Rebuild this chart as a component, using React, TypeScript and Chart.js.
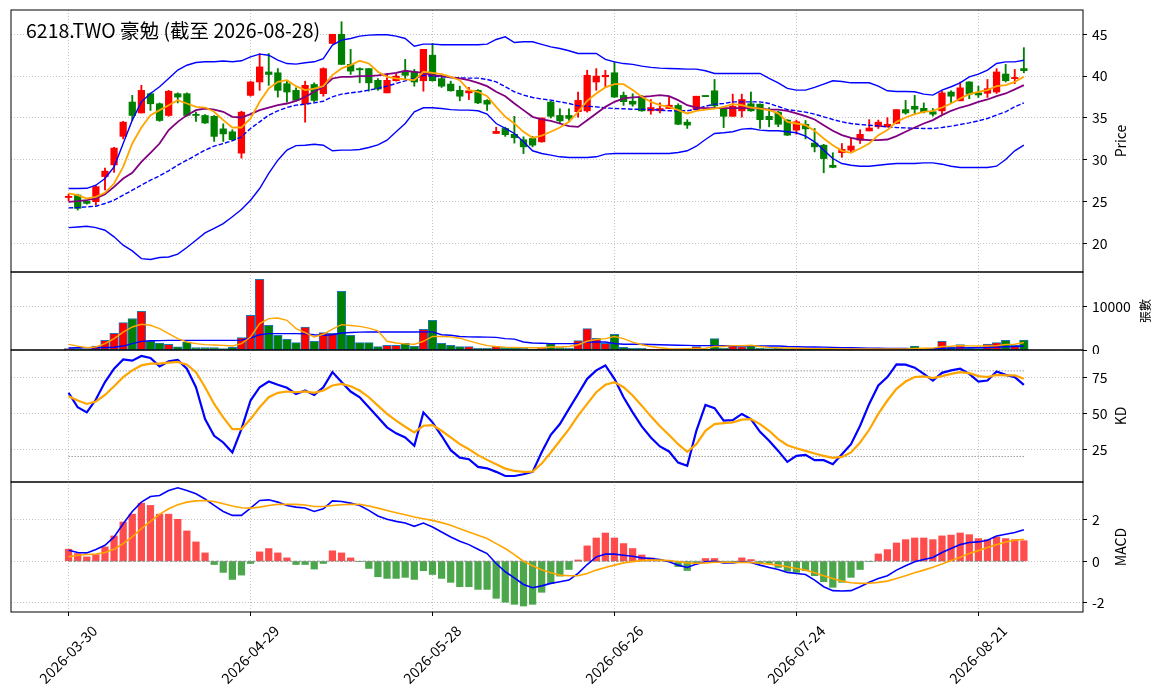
import React, { useEffect, useRef } from "react";
import { Chart, registerables } from "chart.js";

Chart.register(...registerables);

// ---------------- data ----------------
const DATES = [
  "2026-03-30","2026-03-31","2026-04-01","2026-04-02","2026-04-07","2026-04-08","2026-04-09","2026-04-10","2026-04-13","2026-04-14",
  "2026-04-15","2026-04-16","2026-04-17","2026-04-20","2026-04-21","2026-04-22","2026-04-23","2026-04-24","2026-04-27","2026-04-28",
  "2026-04-29","2026-04-30","2026-05-04","2026-05-05","2026-05-06","2026-05-07","2026-05-08","2026-05-11","2026-05-12","2026-05-13",
  "2026-05-14","2026-05-15","2026-05-18","2026-05-19","2026-05-20","2026-05-21","2026-05-22","2026-05-25","2026-05-26","2026-05-27",
  "2026-05-28","2026-05-29","2026-06-01","2026-06-02","2026-06-03","2026-06-04","2026-06-05","2026-06-08","2026-06-09","2026-06-10",
  "2026-06-11","2026-06-12","2026-06-15","2026-06-16","2026-06-17","2026-06-18","2026-06-22","2026-06-23","2026-06-24","2026-06-25",
  "2026-06-26","2026-06-29","2026-06-30","2026-07-01","2026-07-02","2026-07-03","2026-07-06","2026-07-07","2026-07-08","2026-07-09",
  "2026-07-10","2026-07-13","2026-07-14","2026-07-15","2026-07-16","2026-07-17","2026-07-20","2026-07-21","2026-07-22","2026-07-23",
  "2026-07-24","2026-07-27","2026-07-28","2026-07-29","2026-07-30","2026-07-31","2026-08-03","2026-08-04","2026-08-05","2026-08-06",
  "2026-08-07","2026-08-10","2026-08-11","2026-08-12","2026-08-13","2026-08-14","2026-08-17","2026-08-18","2026-08-19","2026-08-20",
  "2026-08-21","2026-08-24","2026-08-25","2026-08-26","2026-08-27","2026-08-28",
];

const OPEN = [
  25.5,25.8,25.05,25.0,28.0,29.4,32.8,36.9,35.6,37.9,
  36.7,35.3,37.9,37.9,35.4,35.3,35.2,33.7,33.35,30.8,
  37.7,39.3,40.5,40.4,39.1,38.3,36.7,39.0,37.9,43.9,
  45.0,41.4,40.9,40.9,39.5,38.0,39.45,40.5,40.5,39.45,
  42.5,39.7,39.05,38.3,38.0,38.3,37.1,33.15,33.75,33.05,
  32.4,32.55,32.15,36.9,35.3,35.3,35.75,35.85,39.3,39.92,
  40.4,37.7,37.0,37.45,35.85,35.86,36.13,36.5,34.5,36.0,
  37.65,38.25,36.1,35.2,35.85,36.7,36.65,35.2,35.7,34.75,
  33.55,34.25,32.0,31.75,29.35,30.85,31.15,32.35,33.45,33.95,
  33.95,34.35,36.0,36.4,36.15,35.75,35.85,38.1,37.05,39.3,
  38.0,37.95,38.1,40.25,39.7,40.9,
];
const HIGH = [
  25.9,25.9,25.2,26.9,29.0,31.5,34.6,37.7,38.9,38.0,
  36.8,38.3,38.0,38.0,35.7,35.4,35.3,34.3,33.6,35.8,
  39.4,42.7,42.7,40.9,39.5,38.6,39.4,39.2,41.0,45.0,
  46.5,43.2,41.0,40.9,39.7,40.3,40.3,42.0,40.8,43.2,
  43.9,40.1,39.4,38.8,38.65,38.4,37.2,33.9,33.9,35.2,
  32.75,32.8,35.0,37.0,36.1,36.1,38.1,40.7,40.9,40.7,
  41.7,38.1,37.9,37.7,37.2,36.8,37.6,36.7,34.8,37.6,
  37.65,39.6,36.2,37.85,37.85,38.1,36.7,36.25,35.8,34.8,
  34.75,34.7,33.75,31.85,30.85,31.95,32.65,33.6,34.8,34.75,
  35.05,36.0,37.1,37.7,36.8,36.13,38.25,38.25,39.3,39.35,
  38.8,39.6,40.9,41.4,40.8,43.4,
];
const LOW = [
  25.1,24.0,24.7,24.6,26.4,28.5,32.5,34.7,35.6,35.9,
  34.6,35.2,36.8,35.2,34.6,34.35,32.2,32.2,32.3,30.2,
  37.6,38.3,38.9,37.5,36.9,37.0,34.5,36.9,37.6,43.9,
  41.4,40.2,39.2,38.2,38.3,38.0,39.4,39.7,38.8,38.2,
  39.4,38.65,38.2,37.05,37.2,36.7,35.9,33.15,32.8,32.0,
  30.75,31.55,32.1,35.0,34.3,34.7,35.1,35.7,38.3,38.65,
  37.45,36.5,36.4,35.8,35.45,35.6,36.1,34.2,33.75,36.0,
  37.55,36.3,33.85,35.2,35.1,35.8,33.75,33.95,33.95,32.9,
  33.05,32.5,30.95,28.45,29.05,30.3,30.85,31.95,33.45,33.75,
  33.9,34.3,35.45,35.45,35.6,35.22,35.5,36.8,37.05,37.3,
  37.45,37.45,37.93,39.3,39.1,40.4,
];
const CLOSE = [
  25.55,24.2,24.8,26.8,28.65,31.4,34.5,35.3,38.3,36.7,
  34.7,38.2,37.5,35.3,35.3,34.4,32.8,33.1,32.4,35.7,
  39.3,41.1,40.2,38.3,38.1,37.1,38.9,37.1,40.9,45.0,
  41.4,40.6,40.75,39.2,38.45,39.5,40.0,40.1,39.3,43.2,
  39.45,38.8,38.25,37.6,38.25,36.8,36.65,33.4,33.0,32.65,
  31.55,31.75,35.0,35.2,34.65,34.95,37.1,40.1,40.0,40.1,
  37.5,36.95,36.65,35.85,36.25,36.13,36.53,34.25,34.15,37.6,
  37.55,36.45,35.2,36.4,37.2,35.85,34.8,34.8,34.25,32.95,
  34.55,33.7,31.55,30.15,29.1,31.25,31.65,33.05,33.8,34.5,
  34.25,36.0,35.6,36.05,35.75,35.45,38.0,37.6,38.6,37.85,
  37.75,38.5,40.5,39.45,39.85,40.65,
];

const MA5 = [
  25.98,25.78,25.38,25.58,26.06,27.17,29.16,31.95,33.86,35.34,
  35.94,36.53,37.13,36.73,36.33,36.25,35.74,34.74,33.86,33.86,
  34.94,36.93,38.53,39.32,39.52,38.8,38.33,38.5,38.8,40.12,
  40.92,41.31,41.83,41.51,40.52,39.92,39.72,39.6,39.52,40.52,
  40.4,40.24,39.92,39.52,38.33,38.13,37.61,36.33,35.14,34.34,
  33.35,32.63,32.9,33.35,33.86,34.54,35.74,37.05,37.93,38.65,
  39.04,39.04,38.33,37.53,36.93,36.53,36.33,35.94,35.54,35.86,
  36.0,36.13,36.33,36.65,36.53,36.25,36.13,35.94,35.55,34.54,
  34.34,34.14,33.47,32.55,31.75,31.08,30.84,31.35,31.95,32.95,
  33.55,34.54,35.06,35.46,35.74,35.86,36.25,36.73,37.33,37.85,
  38.13,38.33,38.8,38.92,39.32,39.92,
];
const MA10 = [
  24.98,25.06,25.18,25.38,25.9,26.77,27.77,28.45,29.76,30.84,
  31.95,33.55,34.54,35.34,35.94,36.13,36.0,35.74,35.14,35.06,
  35.46,35.94,36.25,36.53,36.73,37.05,37.5,38.13,38.73,39.72,
  39.92,39.92,40.0,40.0,40.08,40.24,40.4,40.64,40.52,40.4,
  40.12,40.0,39.84,39.72,39.52,39.2,38.8,38.13,37.6,36.73,
  35.94,35.14,34.82,34.66,34.34,34.02,33.94,34.74,35.54,36.33,
  36.93,37.33,37.45,37.53,37.61,37.73,37.61,37.13,36.53,36.25,
  36.17,36.17,36.17,36.17,36.17,36.17,36.13,36.0,36.0,35.86,
  35.54,35.22,34.82,34.14,33.47,32.95,32.63,32.43,32.35,32.35,
  32.43,32.83,33.35,33.86,34.34,34.74,35.34,35.86,36.25,36.53,
  36.93,37.21,37.61,37.93,38.41,38.92,
];
const BB_UPPER = [
  26.57,26.57,26.6,26.97,27.77,29.16,31.95,34.74,36.93,37.93,
  38.73,39.72,40.72,41.3,41.63,41.71,41.71,41.8,41.71,41.83,
  42.31,42.63,42.5,41.9,41.5,41.43,41.6,41.71,42.1,43.7,
  44.3,44.5,44.78,44.9,44.94,44.94,44.78,44.5,43.58,43.82,
  43.82,43.74,43.74,43.74,43.74,43.74,43.82,44.38,44.7,44.02,
  44.1,44.1,43.8,43.5,43.3,43.03,42.7,42.7,42.7,42.0,
  41.7,41.5,41.4,41.2,41.04,40.96,40.92,40.88,40.84,40.84,
  40.64,40.32,40.32,40.32,40.32,40.32,40.32,39.72,39.2,38.53,
  38.33,38.33,38.65,39.04,39.44,39.36,39.2,39.2,39.2,38.8,
  38.25,38.17,38.17,38.13,37.85,37.73,38.33,38.73,39.2,39.92,
  40.24,40.72,41.51,41.7,41.7,41.9,
];
const BB_MID = [
  24.26,24.3,24.38,24.46,24.78,25.18,25.78,26.37,26.97,27.57,
  28.09,28.69,29.36,29.96,30.56,31.16,31.63,31.95,32.27,32.75,
  33.75,34.54,35.34,35.86,36.25,36.53,36.65,36.81,37.0,37.53,
  37.85,38.0,38.13,38.33,38.53,38.8,39.12,39.44,39.72,40.08,
  40.0,39.92,39.84,39.8,39.76,39.76,39.6,39.32,38.73,38.13,
  37.73,37.45,37.27,37.13,36.93,36.73,36.45,36.41,36.33,36.2,
  36.13,36.1,36.05,36.05,36.0,35.94,35.86,35.86,35.86,36.05,
  36.41,36.65,36.73,36.93,36.93,36.93,36.93,36.73,36.37,36.0,
  35.86,35.7,35.46,35.14,34.82,34.54,34.34,34.22,34.14,34.06,
  33.94,33.86,33.82,33.78,33.75,33.75,33.86,34.02,34.22,34.42,
  34.66,34.94,35.34,35.74,36.33,36.81,
];
const BB_LOWER = [
  21.9,21.98,22.07,21.9,21.59,20.8,19.8,19.12,18.2,18.1,
  18.33,18.4,18.73,19.52,20.4,21.27,21.8,22.39,23.2,24.06,
  25.18,26.57,28.37,29.96,31.16,31.7,31.75,31.87,31.75,31.08,
  31.16,31.16,31.24,31.47,31.79,32.35,33.35,34.34,35.74,36.22,
  36.22,36.13,36.0,35.94,35.94,35.86,35.46,34.34,33.75,33.15,
  32.15,31.08,30.76,30.56,30.36,30.28,30.28,30.28,30.36,30.68,
  30.76,30.76,30.76,30.76,30.76,30.76,30.76,30.88,31.08,31.63,
  32.43,33.15,33.23,33.35,33.67,33.75,33.55,33.47,33.47,33.35,
  33.23,32.83,32.15,31.16,30.16,29.56,29.36,29.24,29.24,29.36,
  29.48,29.56,29.56,29.56,29.64,29.64,29.48,29.24,29.08,29.08,
  29.08,29.08,29.24,30.04,31.08,31.75,
];

const VOLUME = [
  300,300,150,900,2200,3800,6250,7200,8850,2050,
  1600,1300,750,1830,530,530,530,300,600,2820,
  7940,16180,5650,3360,2440,1680,5270,1980,3970,3820,
  13430,3360,1680,1680,760,1070,1070,1530,840,4730,
  6800,1530,1070,760,760,380,380,760,530,530,
  380,230,530,1450,530,380,2140,4890,2670,1530,
  3590,610,380,380,230,230,230,230,230,760,
  230,2600,460,1000,760,1070,460,300,460,300,
  380,250,250,300,250,250,200,200,200,200,
  200,250,300,900,300,460,1980,610,1220,460,
  300,1370,1680,2210,1070,2290,
];
const VOL_MA5 = [
  1300,900,530,690,1450,2600,4100,5270,5880,5650,
  4890,3740,2600,1830,1450,1220,1150,1070,920,1450,
  2980,6030,7180,7330,6800,4900,4000,3000,3600,4800,
  5800,5600,5400,5000,4400,2000,1600,1400,1300,2000,
  3100,3100,3000,2700,2100,1500,1000,800,650,600,
  550,500,500,700,700,800,1200,2000,2400,2600,
  3100,2600,1800,1200,800,500,300,250,300,350,
  400,800,800,1000,1000,1100,800,600,500,450,
  400,350,300,300,300,250,250,220,220,220,
  220,230,250,370,390,440,790,850,1040,950,
  920,930,1010,1250,1330,1720,
];
const VOL_MA20 = [
  460,500,520,530,560,620,900,1450,1980,2100,
  2150,2200,2200,2200,2200,2200,2200,2200,2200,2250,
  2750,3500,3740,3740,3740,3740,3700,3500,3360,3500,
  3890,4000,4100,4120,4120,4120,4120,4120,4120,4150,
  4150,3500,3360,3100,3000,2980,2950,2900,2600,2500,
  1830,1600,1550,1450,1450,1450,1450,1830,1830,1830,
  1500,1300,1300,1300,1250,1200,1150,1100,1050,1000,
  1000,1000,1000,950,950,950,900,900,900,800,
  750,700,690,650,600,550,500,450,420,400,
  380,350,330,320,310,300,380,420,480,500,
  520,580,650,750,800,900,
];

const K_LINE = [
  64.6,54.5,50.9,59.9,72.1,81.5,88.0,87.1,90.4,89.0,
  83.1,86.6,87.6,81.5,68.5,46.2,34.5,29.8,22.8,39.2,
  59.2,68.5,72.5,70.2,68.1,63.8,66.2,63.1,68.5,79.1,
  72.1,65.5,61.5,54.5,47.4,40.4,36.2,33.3,27.5,50.9,
  43.9,34.5,24.4,19.2,18.1,12.7,11.7,9.2,6.3,6.3,
  7.5,9.2,23.0,35.2,42.7,53.3,63.8,74.4,80.3,83.8,
  74.4,61.5,50.9,41.1,33.3,27.0,23.5,15.7,13.4,38.0,
  56.1,53.8,45.1,45.5,49.8,46.2,37.3,31.0,23.9,16.2,
  20.4,21.1,17.4,17.4,14.6,21.6,28.6,41.5,56.8,69.7,
  75.6,84.5,84.3,82.2,77.9,73.2,78.6,80.3,81.5,77.9,
  72.5,73.2,79.6,77.2,75.6,70.2,
];
const D_LINE = [
  62.2,59.2,56.8,58.5,63.1,69.2,75.6,80.3,83.8,85.0,
  85.0,85.7,86.2,84.3,79.1,68.5,56.8,47.4,39.2,39.2,
  46.2,54.5,61.5,64.6,65.5,65.0,65.6,64.6,66.2,69.7,
  70.9,69.2,66.2,61.5,55.6,49.8,45.1,40.8,36.9,41.5,
  42.0,38.0,33.3,28.6,25.1,20.9,17.6,14.6,11.5,9.9,
  9.2,9.4,15.0,22.8,31.0,39.2,48.6,56.8,65.0,70.2,
  72.1,68.5,62.7,55.6,48.1,41.1,35.0,28.6,23.2,28.6,
  38.0,42.7,43.4,43.9,45.8,46.2,42.7,38.0,32.2,27.9,
  25.8,23.9,22.1,20.4,19.0,19.7,22.8,29.8,38.7,49.8,
  59.2,67.4,72.5,75.6,76.1,74.9,76.3,77.9,79.1,78.4,
  76.3,75.6,77.2,76.8,76.8,74.4,
];

const DIF = [
  0.53,0.42,0.40,0.56,0.77,1.17,1.81,2.40,2.85,3.12,
  3.17,3.41,3.54,3.41,3.25,3.00,2.69,2.40,2.21,2.21,
  2.56,2.93,2.96,2.85,2.69,2.61,2.57,2.40,2.53,2.91,
  2.88,2.80,2.69,2.45,2.18,2.02,1.92,1.84,1.68,1.84,
  1.65,1.41,1.17,0.96,0.80,0.58,0.37,-0.11,-0.51,-0.80,
  -1.12,-1.28,-1.19,-1.07,-0.99,-0.91,-0.59,-0.16,0.21,0.34,
  0.34,0.29,0.24,0.16,0.13,0.08,-0.03,-0.19,-0.30,-0.14,
  -0.03,0.00,-0.08,-0.08,-0.03,-0.06,-0.19,-0.30,-0.40,-0.54,
  -0.59,-0.64,-0.91,-1.23,-1.42,-1.44,-1.42,-1.23,-1.02,-0.83,
  -0.70,-0.43,-0.22,-0.03,0.08,0.18,0.42,0.61,0.80,0.90,
  0.93,1.01,1.22,1.30,1.38,1.52,
];
const DEA = [
  0.21,0.29,0.32,0.35,0.42,0.58,0.85,1.17,1.57,1.92,
  2.26,2.53,2.72,2.85,2.91,2.93,2.88,2.77,2.66,2.58,
  2.56,2.61,2.69,2.74,2.75,2.74,2.71,2.64,2.64,2.69,
  2.72,2.74,2.74,2.66,2.56,2.45,2.34,2.24,2.13,2.05,
  1.97,1.86,1.73,1.57,1.41,1.25,1.09,0.85,0.61,0.32,
  0.00,-0.22,-0.41,-0.56,-0.67,-0.70,-0.70,-0.59,-0.43,-0.30,
  -0.19,-0.08,-0.02,0.03,0.05,0.05,0.03,-0.03,-0.08,-0.10,
  -0.08,-0.05,-0.05,-0.06,-0.05,-0.06,-0.10,-0.14,-0.19,-0.27,
  -0.35,-0.43,-0.56,-0.70,-0.83,-0.96,-1.04,-1.07,-1.06,-1.02,
  -0.96,-0.83,-0.70,-0.56,-0.43,-0.29,-0.14,0.03,0.19,0.37,
  0.51,0.66,0.80,0.93,1.01,1.06,
];
const HIST = [
  0.58,0.37,0.21,0.32,0.69,1.22,1.89,2.27,2.80,2.69,
  2.27,2.27,2.02,1.46,0.93,0.40,-0.16,-0.54,-0.88,-0.67,
  -0.11,0.45,0.61,0.40,0.16,-0.16,-0.16,-0.38,-0.11,0.50,
  0.40,0.16,-0.02,-0.35,-0.75,-0.83,-0.83,-0.78,-0.88,-0.46,
  -0.64,-0.83,-1.02,-1.23,-1.23,-1.36,-1.36,-1.79,-1.98,-2.08,
  -2.16,-2.08,-1.50,-1.07,-0.72,-0.40,0.06,0.74,1.12,1.36,
  1.12,0.85,0.61,0.30,0.16,0.03,-0.01,-0.26,-0.45,-0.08,
  0.13,0.13,-0.03,-0.01,0.16,0.08,-0.10,-0.11,-0.30,-0.48,
  -0.54,-0.46,-0.70,-0.99,-1.26,-1.02,-0.78,-0.40,-0.02,0.35,
  0.56,0.88,1.04,1.12,1.12,1.04,1.22,1.26,1.36,1.28,
  1.09,1.04,1.17,1.09,1.04,0.99,
];

const X_TICKS = [0, 20, 40, 60, 80, 100];
const PRICE_TICKS = [20, 25, 30, 35, 40, 45];
const VOL_TICKS = [0, 10000];
const KD_TICKS = [25, 50, 75];
const MACD_TICKS = [-2, 0, 2];
const KD_LEVELS = [80, 20];
const MACD_ZERO = 0;
const TITLE = "6218.TWO 豪勉 (截至 2026-08-28)";

// ---------------- styling ----------------
const FONT = "'Noto Sans CJK TC', 'Noto Sans', sans-serif";
const GRID = "#b4b4b4";
const UP = "#ff0000";
const DOWN = "#008000";
const UP_A = "rgba(255,0,0,0.7)";
const DOWN_A = "rgba(0,128,0,0.7)";
const W = 1163;
const AREA_LEFT = 11;
const AXIS_W = 80;
const X_MIN = -6.33;
const X_MAX = 111.5;

Chart.defaults.font.family = FONT;
Chart.defaults.font.size = 14;
Chart.defaults.color = "#000";

const xy = (arr: number[]) => arr.map((v, i) => ({ x: i, y: v }));
const isUp = (i: number) => CLOSE[i] >= OPEN[i];
const candleColors = DATES.map((_, i) => (isUp(i) ? UP : DOWN));

function zeroPad(s: any) {
  s.paddingLeft = 0;
  s.paddingRight = 0;
  s.paddingTop = 0;
  s.paddingBottom = 0;
}

function xScale(showLabels: boolean, axisH: number) {
  return {
    type: "linear",
    position: "bottom",
    min: X_MIN,
    max: X_MAX,
    offset: false,
    afterBuildTicks: (s: any) => {
      s.ticks = X_TICKS.map((v) => ({ value: v }));
    },
    afterFit: (s: any) => {
      s.height = axisH;
      zeroPad(s);
    },
    grid: {
      offset: false,
      color: GRID,
      lineWidth: 0.8,
      drawTicks: showLabels,
      tickLength: 4,
      tickColor: "#000",
      tickWidth: 1,
      tickBorderDash: [],
    },
    border: { display: false, dash: [1, 2] },
    ticks: {
      display: showLabels,
      autoSkip: false,
      minRotation: 45,
      maxRotation: 45,
      padding: 6,
      labelOffset: 26,
      font: { size: 14.5 },
      color: "#000",
      callback: (v: any) => DATES[v as number],
    },
  };
}

function yScale(min: number, max: number, ticks: number[]) {
  return {
    type: "linear",
    position: "right",
    min,
    max,
    afterBuildTicks: (s: any) => {
      s.ticks = ticks.map((v) => ({ value: v }));
    },
    afterFit: (s: any) => {
      s.width = AXIS_W;
      zeroPad(s);
    },
    grid: {
      color: GRID,
      lineWidth: 0.8,
      drawTicks: true,
      tickLength: 4,
      tickColor: "#000",
      tickWidth: 1,
      tickBorderDash: [],
    },
    border: { display: false, dash: [1, 2] },
    ticks: {
      padding: 5,
      font: { size: 14 },
      color: "#000",
      callback: (v: any) => String(v),
    },
  };
}

const framePlugin = {
  id: "frame",
  afterDraw(chart: any) {
    const { ctx, chartArea: a } = chart;
    ctx.save();
    ctx.strokeStyle = "#000";
    ctx.lineWidth = 1;
    ctx.strokeRect(a.left, a.top, a.right - a.left, a.bottom - a.top);
    ctx.restore();
  },
};

function axisTitlePlugin(text: string, x: number, size: number) {
  return {
    id: "axisTitle",
    afterDraw(chart: any) {
      const { ctx, chartArea: a } = chart;
      ctx.save();
      ctx.font = `${size}px ${FONT}`;
      ctx.fillStyle = "#000";
      ctx.textAlign = "center";
      ctx.textBaseline = "middle";
      ctx.translate(x, (a.top + a.bottom) / 2);
      ctx.rotate(-Math.PI / 2);
      ctx.fillText(text, 0, 0);
      ctx.restore();
    },
  };
}

const titlePlugin = {
  id: "mainTitle",
  afterDraw(chart: any) {
    const { ctx } = chart;
    ctx.save();
    ctx.font = `19.5px ${FONT}`;
    ctx.fillStyle = "#000";
    ctx.textAlign = "left";
    ctx.textBaseline = "middle";
    ctx.fillText(TITLE, 26, 31);
    ctx.restore();
  },
};

function baseOptions(padTop: number, padBottom: number, scales: any) {
  return {
    responsive: false,
    animation: false,
    events: [],
    layout: { padding: { left: AREA_LEFT, right: 0, top: padTop, bottom: padBottom } },
    plugins: { legend: { display: false }, tooltip: { enabled: false }, title: { display: false } },
    scales,
  };
}

function lineDs(data: number[], color: string, width: number, order: number, dash: number[] = []) {
  return {
    type: "line",
    data: xy(data),
    borderColor: color,
    borderWidth: width,
    borderDash: dash,
    pointRadius: 0,
    tension: 0,
    fill: false,
    order,
  };
}

function priceConfig(): any {
  return {
    type: "line",
    data: {
      datasets: [
        {
          type: "bar",
          data: DATES.map((_, i) => ({ x: i, y: [LOW[i], HIGH[i]] })),
          backgroundColor: candleColors,
          borderWidth: 0,
          barThickness: 1.2,
          grouped: false,
          order: 10,
        },
        {
          type: "bar",
          data: DATES.map((_, i) => ({
            x: i,
            y: [Math.min(OPEN[i], CLOSE[i]), Math.max(OPEN[i], CLOSE[i])],
          })),
          backgroundColor: candleColors,
          borderWidth: 0,
          barThickness: 6.6,
          minBarLength: 1.2,
          grouped: false,
          order: 9,
        },
        lineDs(BB_UPPER, "#0000ff", 1.4, 5),
        lineDs(BB_MID, "#0000ff", 1.4, 4, [4.6, 2]),
        lineDs(BB_LOWER, "#0000ff", 1.4, 3),
        lineDs(MA10, "#800080", 1.8, 2),
        lineDs(MA5, "#ffa500", 1.8, 1),
      ],
    },
    options: baseOptions(10, 4, { x: xScale(false, 0), y: yScale(16.6, 47.9, PRICE_TICKS) }),
    plugins: [framePlugin, axisTitlePlugin("Price", 1121, 14), titlePlugin],
  };
}

function volumeConfig(): any {
  return {
    type: "line",
    data: {
      datasets: [
        {
          type: "bar",
          data: xy(VOLUME),
          backgroundColor: candleColors,
          borderColor: "#1f77b4",
          borderWidth: 1,
          borderSkipped: false,
          barThickness: 8.6,
          grouped: false,
          order: 5,
        },
        lineDs(VOL_MA20, "#0000ff", 1.4, 2),
        lineDs(VOL_MA5, "#ffa500", 1.4, 1),
      ],
    },
    options: baseOptions(4, 4, { x: xScale(false, 0), y: yScale(0, 17850, VOL_TICKS) }),
    plugins: [framePlugin, axisTitlePlugin("張數", 1145, 12)],
  };
}

function kdConfig(): any {
  const levels = KD_LEVELS.map((lv, j) =>
    lineDs(
      DATES.map(() => lv),
      "#808080",
      1,
      6 + j,
      [1.2, 1.8]
    )
  );
  return {
    type: "line",
    data: {
      datasets: [...levels, lineDs(K_LINE, "#0000ff", 2.2, 2), lineDs(D_LINE, "#ffa500", 2.2, 1)],
    },
    options: baseOptions(4, 4, { x: xScale(false, 0), y: yScale(2.1, 94.6, KD_TICKS) }),
    plugins: [framePlugin, axisTitlePlugin("KD", 1121, 14)],
  };
}

function macdConfig(): any {
  return {
    type: "line",
    data: {
      datasets: [
        {
          type: "bar",
          data: xy(HIST),
          backgroundColor: HIST.map((v) => (v >= 0 ? UP_A : DOWN_A)),
          borderWidth: 0,
          barThickness: 6.6,
          grouped: false,
          order: 6,
        },
        lineDs(DATES.map(() => MACD_ZERO), "#808080", 0.9, 5, [3, 1.6]),
        lineDs(DIF, "#0000ff", 1.6, 2),
        lineDs(DEA, "#ffa500", 1.6, 1),
      ],
    },
    options: baseOptions(4, 0, { x: xScale(true, 86), y: yScale(-2.45, 3.82, MACD_TICKS) }),
    plugins: [framePlugin, axisTitlePlugin("MACD", 1121, 14)],
  };
}

const PANELS = [
  { top: 0, height: 276, make: priceConfig },
  { top: 268, height: 86, make: volumeConfig },
  { top: 346, height: 140, make: kdConfig },
  { top: 478, height: 220, make: macdConfig },
];

export default function App() {
  const refs = useRef<(HTMLCanvasElement | null)[]>([]);

  useEffect(() => {
    const charts = PANELS.map((p, i) => new Chart(refs.current[i] as HTMLCanvasElement, p.make()));
    return () => charts.forEach((c) => c.destroy());
  }, []);

  return (
    <div
      style={{
        position: "absolute",
        left: 0,
        top: 0,
        width: W,
        height: 698,
        background: "#fff",
        overflow: "hidden",
      }}
    >
      {PANELS.map((p, i) => (
        <canvas
          key={i}
          ref={(el) => {
            refs.current[i] = el;
          }}
          width={W}
          height={p.height}
          style={{ position: "absolute", left: 0, top: p.top, width: W, height: p.height }}
        />
      ))}
    </div>
  );
}
